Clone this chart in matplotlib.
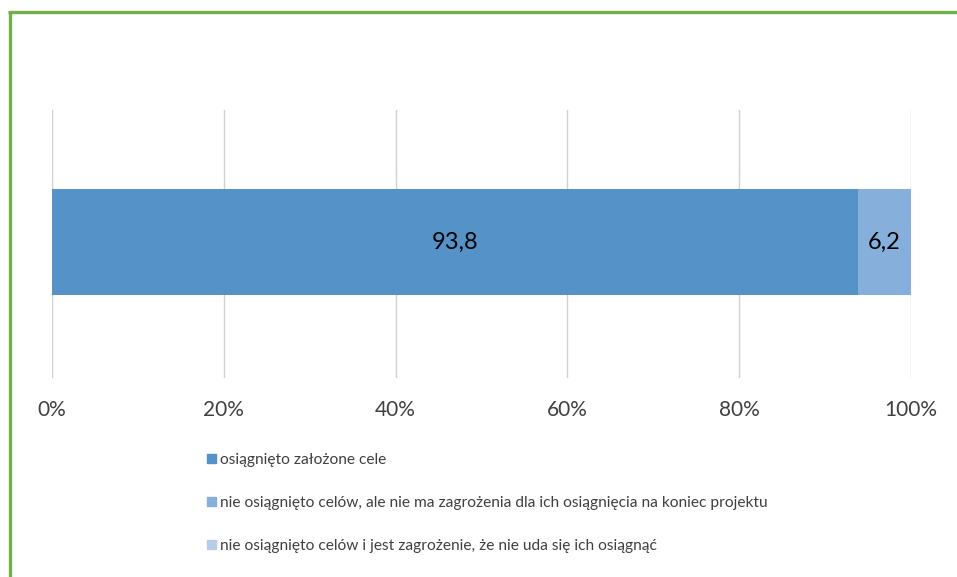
import matplotlib.pyplot as plt
from matplotlib.patches import Rectangle
from matplotlib.lines import Line2D

plt.rcParams['font.family'] = ['Lato', 'DejaVu Sans']

# share of projects (%)
labels = [
    "osiągnięto założone cele",
    "nie osiągnięto celów, ale nie ma zagrożenia dla ich osiągnięcia na koniec projektu",
    "nie osiągnięto celów i jest zagrożenie, że nie uda się ich osiągnąć",
]
values = [93.8, 6.2, 0.0]
colors = ["#5592c8", "#86afdc", "#b6cde8"]
ticks = [0, 20, 40, 60, 80, 100]
tick_labels = ["0%", "20%", "40%", "60%", "80%", "100%"]

W, H = 957, 577
fig = plt.figure(figsize=(W / 100, H / 100), dpi=100)
ax = fig.add_axes([52 / W, 1 - 378 / H, (911 - 52) / W, (378 - 110) / H])

left = 0
for v, c, lab in zip(values, colors, labels):
    ax.barh(0.008, v, left=left, height=0.395, color=c, label=lab, zorder=3)
    if v > 0:
        ax.text(left + v / 2, 0.008, f"{v:.1f}".replace(".", ","), ha="center", va="center",
                fontsize=17, color="black", zorder=4)
    left += v

ax.set_xlim(0, 100)
ax.set_ylim(-0.5, 0.5)
ax.set_xticks(ticks)
ax.set_xticklabels(tick_labels, fontsize=15, color="#404040")
ax.set_yticks([])
ax.tick_params(axis="x", length=0, pad=16)
ax.grid(axis="x", color="#d0d0d0", linewidth=1, zorder=0)
for s in ax.spines.values():
    s.set_visible(False)

# legend entries stacked below the axis
handles = [Rectangle((0, 0), 1, 1, color=c) for c in colors]
leg = fig.legend(handles, labels, loc="upper left", bbox_to_anchor=(201 / W, 1 - 447 / H),
                 frameon=False, fontsize=11.2, handlelength=0.55, handleheight=0.55,
                 handletextpad=0.3, labelspacing=1.85, borderaxespad=0)
for t in leg.get_texts():
    t.set_color("#404040")

# green frame (left and top edges)
green = "#72b04a"
fig.add_artist(Line2D([9.5 / W, 9.5 / W], [0, 1 - 11 / H], color=green, linewidth=2.4,
                      solid_capstyle="butt", transform=fig.transFigure))
fig.add_artist(Line2D([8.3 / W, 1], [1 - 12 / H, 1 - 12 / H], color=green, linewidth=2.4,
                      solid_capstyle="butt", transform=fig.transFigure))

fig.savefig("out.png", dpi=100)
